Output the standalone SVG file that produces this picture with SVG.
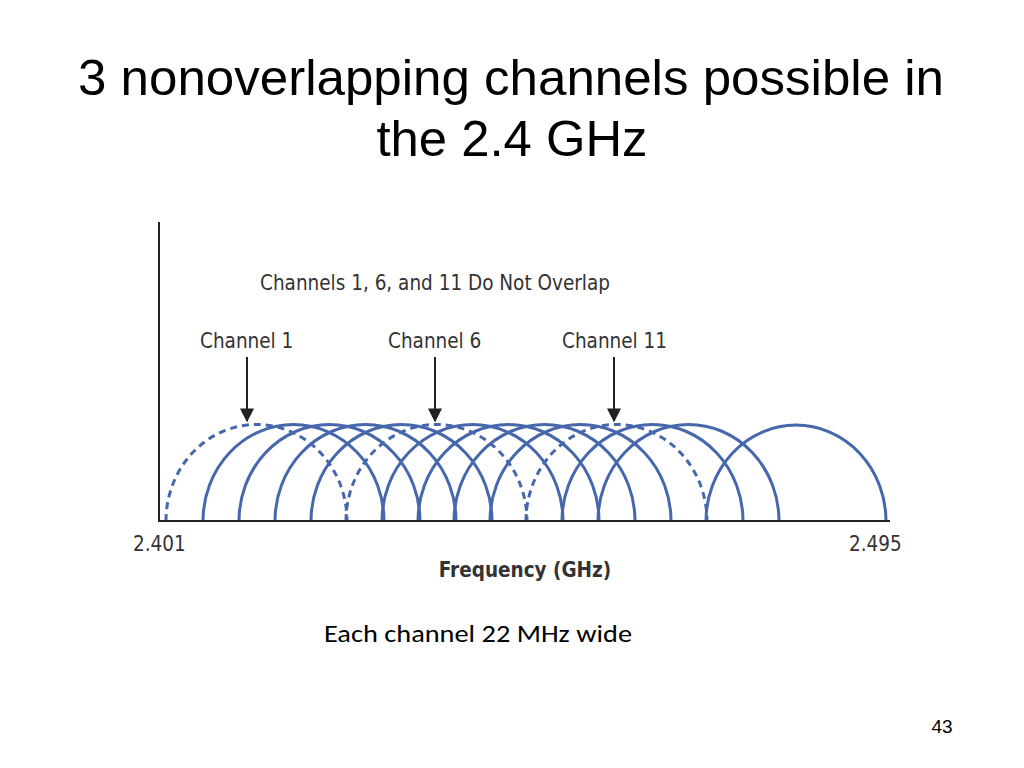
<svg xmlns="http://www.w3.org/2000/svg" width="1024" height="768" viewBox="0 0 1024 768">
<defs>
<style>
.t{font-family:"Liberation Sans",Arial,sans-serif;fill:#000}
.l{font-family:"DejaVu Sans Condensed","Liberation Sans",sans-serif;fill:#333;font-size:20.5px}
.a{fill:none;stroke:#4767ad;stroke-width:3}
.d{stroke-dasharray:7 5}
.ax{stroke:#222;stroke-width:2;fill:none}
</style>
<marker id="ah" viewBox="0 0 10 10" refX="9" refY="5" markerWidth="7" markerHeight="7" orient="auto"><path d="M0,0L10,5L0,10z" fill="#222"/></marker>
</defs>
<rect width="1024" height="768" fill="#fff"/>
<text class="t" x="511" y="95" font-size="50" text-anchor="middle" textLength="866" lengthAdjust="spacingAndGlyphs">3 nonoverlapping channels possible in</text>
<text class="t" x="512" y="156" font-size="50" text-anchor="middle" textLength="271" lengthAdjust="spacingAndGlyphs">the 2.4 GHz</text>
<g id="arcs">
<path class="a" d="M203,521 a90,96 0 0 1 181,0"/>
<path class="a" d="M239,521 a90,96 0 0 1 181,0"/>
<path class="a" d="M275,521 a90,96 0 0 1 181,0"/>
<path class="a" d="M311,521 a90,96 0 0 1 181,0"/>
<path class="a" d="M382,521 a90,96 0 0 1 181,0"/>
<path class="a" d="M418,521 a90,96 0 0 1 181,0"/>
<path class="a" d="M454,521 a90,96 0 0 1 181,0"/>
<path class="a" d="M490,521 a90,96 0 0 1 181,0"/>
<path class="a" d="M562,521 a90,96 0 0 1 181,0"/>
<path class="a" d="M598,521 a90,96 0 0 1 181,0"/>
<path class="a" d="M706,521 a90,96 0 0 1 180,0"/>
<path class="a d" d="M166,521 a90,96 0 0 1 181,0"/>
<path class="a d" d="M346,521 a90,96 0 0 1 181,0"/>
<path class="a d" d="M526,521 a90,96 0 0 1 181,0"/>
</g>
<g id="axes">
<path class="ax" d="M159,222V521H890"/>
</g>
<g id="connectors">
<line class="ax" x1="247" y1="357" x2="247" y2="421" marker-end="url(#ah)"/>
<line class="ax" x1="435" y1="357" x2="435" y2="421" marker-end="url(#ah)"/>
<line class="ax" x1="614" y1="357" x2="614" y2="421" marker-end="url(#ah)"/>
</g>
<g id="labels">
<text class="l" x="260" y="290">Channels 1, 6, and 11 Do Not Overlap</text>
<text class="l" x="200" y="348">Channel 1</text>
<text class="l" x="388" y="348">Channel 6</text>
<text class="l" x="562" y="348">Channel 11</text>
<text class="l" x="133" y="551">2.401</text>
<text class="l" x="849" y="551">2.495</text>
<text class="l" x="525" y="577" text-anchor="middle" font-weight="bold">Frequency (GHz)</text>
</g>
<text x="478" y="642" font-family="Carlito,Lato,sans-serif" font-size="25" text-anchor="middle" textLength="308" lengthAdjust="spacingAndGlyphs">Each channel 22 MHz wide</text>
<text class="t" x="942" y="733" font-size="19" text-anchor="middle">43</text>
</svg>
